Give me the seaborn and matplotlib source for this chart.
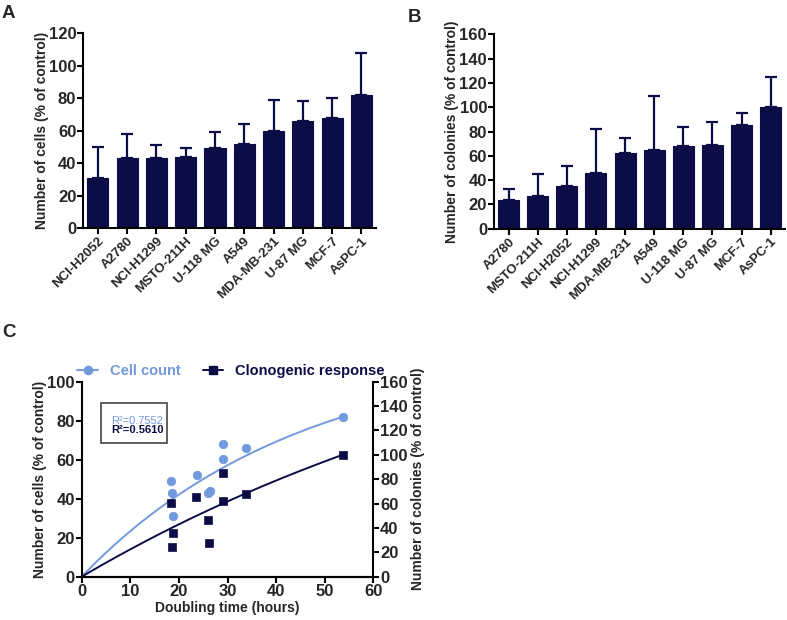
import numpy as np
import pandas as pd
import matplotlib
matplotlib.use("Agg")
import matplotlib.pyplot as plt
import seaborn as sns
from matplotlib.lines import Line2D
from matplotlib.patches import Rectangle

sns.set_style("ticks")
plt.rcParams["font.family"] = ["Liberation Sans", "DejaVu Sans"]
plt.rcParams["font.weight"] = "bold"
plt.rcParams["axes.labelweight"] = "bold"

NAVY = "#0c0c46"
LIGHT = "#7399dd"

# ---- Panel A data ----
a_lines = ["NCI-H2052", "A2780", "NCI-H1299", "MSTO-211H", "U-118 MG",
           "A549", "MDA-MB-231", "U-87 MG", "MCF-7", "AsPC-1"]
a_vals = [31, 43, 43, 44, 49.5, 52, 60, 66, 68, 82]
a_upper = [50, 58, 51, 49, 59, 64, 79, 78, 80, 108]

# ---- Panel B data ----
b_lines = ["A2780", "MSTO-211H", "NCI-H2052", "NCI-H1299", "MDA-MB-231",
           "A549", "U-118 MG", "U-87 MG", "MCF-7", "AsPC-1"]
b_vals = [24, 27, 35, 46, 62, 65, 68, 69, 85, 100]
b_upper = [33, 45, 52, 82, 75, 109, 84, 88, 95, 125]

# ---- Panel C data ----
c_dt_cell = [18.4, 18.6, 18.8, 23.7, 26.0, 26.3, 29.1, 29.0, 33.9, 53.7]
c_cell = [49.2, 42.7, 31.1, 52.0, 42.7, 44.1, 68.2, 60.2, 65.8, 82.1]
c_dt_clono = [18.3, 18.8, 18.6, 23.6, 25.9, 26.2, 29.1, 29.0, 33.9, 53.7]
c_clono = [60.2, 35.6, 24.3, 65.1, 46.2, 27.4, 84.8, 62.1, 67.8, 99.8]
# fitted one-phase association parameters (Ymax, k)
cell_fit = (118.3, 0.022)
clono_fit = (261.0, 0.009)
r2_cell = "0.7552"
r2_clono = "0.5610"

W, H = 787, 620
fig = plt.figure(figsize=(W / 100, H / 100), dpi=100)


def frac(x0, y0, x1, y1):
    return [x0 / W, 1 - y1 / H, (x1 - x0) / W, (y1 - y0) / H]


TICKFS = 12
LABFS = 10


def style_axis(ax):
    for s in ax.spines.values():
        s.set_linewidth(1.5)
        s.set_color("black")
    ax.tick_params(width=1.5, length=4, direction="out", labelsize=TICKFS, color="black", pad=1)


def bar_panel(ax, cats, vals, upper, ymax, ylabel, labelpad):
    df = pd.DataFrame({"line": cats, "val": vals})
    sns.barplot(data=df, x="line", y="val", color=NAVY, saturation=1, width=0.72,
                edgecolor=NAVY, linewidth=0.8, ax=ax, zorder=2)
    err = np.array(upper) - np.array(vals)
    ax.errorbar(np.arange(len(cats)), vals, yerr=[np.zeros(len(cats)), err], fmt="none",
                ecolor=NAVY, elinewidth=1.6, capsize=4.5, capthick=1.6, zorder=1)
    ax.set_xlim(-0.5, len(cats) - 0.5)
    ax.set_ylim(0, ymax)
    ax.set_yticks(np.arange(0, ymax + 1, 20))
    ax.set_xlabel("")
    ax.set_ylabel(ylabel, fontsize=LABFS, fontweight="bold", labelpad=labelpad)
    sns.despine(ax=ax)
    style_axis(ax)
    ax.set_xticks(np.arange(len(cats)))
    ax.set_xticklabels(cats, rotation=45, ha="right", rotation_mode="anchor",
                       fontsize=9.5, fontweight="bold")


axA = fig.add_axes(frac(83.3, 33.3, 376, 228))
bar_panel(axA, a_lines, a_vals, a_upper, 120, "Number of cells (% of control)", 0)
axB = fig.add_axes(frac(494, 34.3, 785.3, 228.7))
bar_panel(axB, b_lines, b_vals, b_upper, 160, "Number of colonies (% of control)", 0)

# ---- Panel C ----
axC = fig.add_axes(frac(81.7, 381.7, 373.3, 576.7))
axC2 = axC.twinx()
xs = np.linspace(0, max(c_dt_cell), 200)
cell_curve = cell_fit[0] * (1 - np.exp(-cell_fit[1] * xs))
clono_curve = clono_fit[0] * (1 - np.exp(-clono_fit[1] * xs))
sns.lineplot(x=xs, y=cell_curve, color=LIGHT, lw=1.4, ax=axC)
sns.scatterplot(x=c_dt_cell, y=c_cell, color=LIGHT, marker="o", s=38, edgecolor=LIGHT, ax=axC, zorder=3)
sns.lineplot(x=xs, y=clono_curve, color=NAVY, lw=1.4, ax=axC2)
sns.scatterplot(x=c_dt_clono, y=c_clono, color=NAVY, marker="s", s=38, edgecolor=NAVY, ax=axC2, zorder=3)
axC.set_xlim(0, 60)
axC.set_ylim(0, 100)
axC2.set_ylim(0, 160)
axC.set_xticks(np.arange(0, 61, 10))
axC.set_yticks(np.arange(0, 101, 20))
axC2.set_yticks(np.arange(0, 161, 20))
for ax in (axC, axC2):
    ax.spines["top"].set_visible(False)
    style_axis(ax)
axC.spines["right"].set_visible(False)
axC2.spines["left"].set_visible(False)
axC.set_xlabel("Doubling time (hours)", fontsize=LABFS, fontweight="bold", labelpad=1.5)
axC.set_ylabel("Number of cells (% of control)", fontsize=LABFS, fontweight="bold", labelpad=0)
axC2.set_ylabel("Number of colonies (% of control)", fontsize=LABFS, fontweight="bold",
                rotation=90, labelpad=2)

# R² box
axC.add_patch(Rectangle((0.065, 0.686), 0.226, 0.205, transform=axC.transAxes,
                        fill=False, edgecolor="#444444", lw=1.2, zorder=4))
axC.text(0.100, 0.80, "R²=" + r2_cell, color=LIGHT, fontsize=8, fontweight="normal",
         transform=axC.transAxes, va="center", ha="left")
axC.text(0.100, 0.750, "R²=" + r2_clono, color=NAVY, fontsize=8, fontweight="bold",
         transform=axC.transAxes, va="center", ha="left")

# legend
handles = [Line2D([], [], color=LIGHT, marker="o", markersize=6, lw=1.4),
           Line2D([], [], color=NAVY, marker="s", markersize=6, lw=1.4)]
leg = axC.legend(handles, ["Cell count", "Clonogenic response"], loc="lower left",
                 bbox_to_anchor=(-0.015, 1.02), ncol=2, frameon=False, fontsize=10.5,
                 handlelength=1.4, columnspacing=1.5, handletextpad=0.85, borderaxespad=0,
                 borderpad=0)
for t, c in zip(leg.get_texts(), [LIGHT, NAVY]):
    t.set_color(c)
    t.set_fontweight("bold")

# panel letters
fig.text(2 / W, 1 - 18.5 / H, "A", fontsize=13.5, fontweight="bold")
fig.text(408 / W, 1 - 22 / H, "B", fontsize=13.5, fontweight="bold")
fig.text(2 / W, 1 - 337 / H, "C", fontsize=13.5, fontweight="bold")

fig.savefig("out.png", dpi=100)
